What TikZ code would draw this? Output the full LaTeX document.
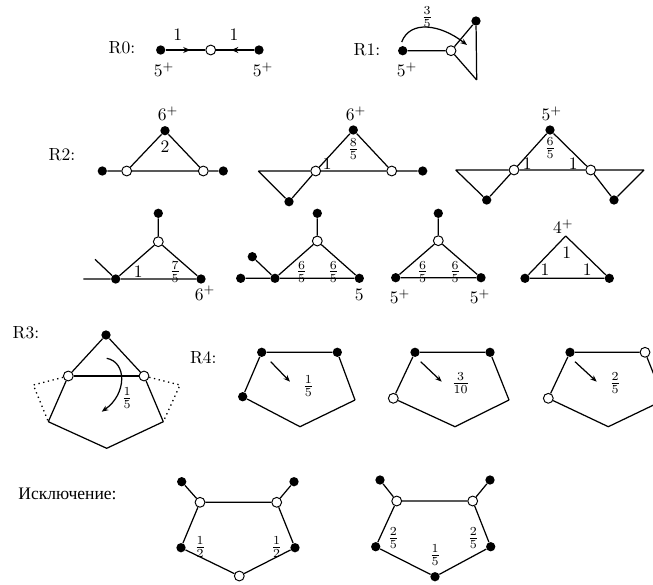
\documentclass[tikz,border=0pt]{standalone}
\usepackage{fontspec}
\newfontfamily\cyrfont{Liberation Serif}
\usetikzlibrary{arrows.meta,decorations.markings}
\tikzset{
 bn/.style={circle,fill=black,inner sep=0pt,minimum size=5.3pt},
 wn/.style={circle,draw,fill=white,inner sep=0pt,minimum size=5.6pt,line width=0.55pt},
 ed/.style={line width=0.7pt},
 dt/.style={line width=0.75pt,dotted},
 lb/.style={inner sep=0pt},
 arr/.style={-{Stealth[length=3.8pt,width=3pt]},line width=0.7pt},
 midarr/.style={postaction={decorate},decoration={markings,mark=at position #1 with {\arrow{Stealth[length=4pt,width=3.4pt]}}}},
}
\begin{document}
\begin{tikzpicture}[x=0.57pt,y=-0.57pt]
\useasboundingbox (0,0) rectangle (653,584);
\begin{scope}
\clip (0,0) rectangle (653,584);
% ---------- R0
\node[lb] (r0) at (122,48) {R0:};
\node[bn] (a1) at (160.7,50) {};
\node[wn] (a2) at (210.7,50) {};
\node[bn] (a3) at (259,50) {};
\draw[ed,midarr=0.62] (a1) -- (a2);
\draw[ed,midarr=0.6] (a3) -- (a2);
\node[lb] (a1l) at (177.7,35) {1};
\node[lb] (a3l) at (234,35) {1};
\node[lb] (a1d) at (164,70) {$5^+$};
\node[lb] (a3d) at (263,70) {$5^+$};
% ---------- R1
\node[lb] (r1) at (367,50) {R1:};
\node[bn] (b1) at (402.7,50.7) {};
\node[wn] (b2) at (451,50.7) {};
\node[bn] (b3) at (476,21) {};
\coordinate (b4) at (476.7,80);
\draw[ed] (b1) -- (b2) (b2) -- (b3) (b3) -- (b4) (b4) -- (b2);
\node[lb] (b1d) at (407,70) {$5^+$};
\coordinate (b5) at (401.7,42);
\coordinate (b6) at (467,45);
\draw[arr] (b5) .. controls (410,20) and (440,24) .. (b6);
\node[lb] (b7) at (427,17) {$\frac{3}{5}$};
% ---------- R2 row 1
\node[lb] (r2) at (62,155) {R2:};
\node[bn] (c1) at (165,130.7) {};
\node[wn] (c2) at (126.7,171) {};
\node[wn] (c3) at (203.3,171) {};
\node[bn] (c4) at (102.3,171) {};
\node[bn] (c5) at (223.3,171) {};
\draw[ed] (c1) -- (c2) (c1) -- (c3) (c2) -- (c3) (c4) -- (c2) (c3) -- (c5);
\node[lb] at (168,114) {$6^+$};
\node[lb] at (165,147) {2};
%
\node[bn] (d1) at (353.3,130) {};
\node[wn] (d2) at (315.7,171) {};
\node[wn] (d3) at (391.7,171) {};
\node[bn] (d4) at (422.7,171) {};
\coordinate (d5) at (258.3,171);
\node[bn] (d6) at (289,201.7) {};
\draw[ed] (d1) -- (d2) (d1) -- (d3) (d2) -- (d3) (d3) -- (d4) (d5) -- (d2) (d2) -- (d6) (d5) -- (d6);
\node[lb] at (356,114) {$6^+$};
\node[lb] at (353.3,149.3) {$\frac{8}{5}$};
\node[lb] at (327.3,164) {1};
%
\node[bn] (e1) at (550,130) {};
\node[wn] (e2) at (514,170) {};
\node[wn] (e3) at (590.7,170) {};
\coordinate (e4) at (455.7,170);
\coordinate (e5) at (644,170);
\node[bn] (e6) at (486.7,200) {};
\node[bn] (e7) at (614,200) {};
\draw[ed] (e1) -- (e2) (e1) -- (e3) (e2) -- (e3) (e4) -- (e2) (e3) -- (e5)
  (e2) -- (e6) (e4) -- (e6) (e3) -- (e7) (e5) -- (e7);
\node[lb] at (551.7,114) {$5^+$};
\node[lb] at (550,148.3) {$\frac{6}{5}$};
\node[lb] at (527.3,164) {1};
\node[lb] at (573.3,164) {1};
% ---------- R2 row 2
\node[bn] (f1) at (158.3,213.3) {};
\node[wn] (f2) at (158.3,241.7) {};
\node[bn] (f3) at (115.7,279) {};
\node[bn] (f4) at (201,279) {};
\coordinate (f5) at (83.3,279);
\coordinate (f6) at (95,259.3);
\draw[ed] (f1) -- (f2) (f2) -- (f3) (f2) -- (f4) (f5) -- (f3) (f3) -- (f4) (f6) -- (f3);
\node[lb] at (205,293.3) {$6^+$};
\node[lb] at (138.3,271.7) {1};
\node[lb] at (175,271.7) {$\frac{7}{5}$};
%
\node[bn] (g1) at (317.3,213.3) {};
\node[wn] (g2) at (317.3,241) {};
\node[bn] (g3) at (275,278.3) {};
\node[bn] (g4) at (359.3,278.3) {};
\node[bn] (g5) at (240.7,278.3) {};
\node[bn] (g6) at (252.3,256.7) {};
\draw[ed] (g1) -- (g2) (g2) -- (g3) (g2) -- (g4) (g5) -- (g3) (g3) -- (g4) (g6) -- (g3);
\node[lb] at (359.3,295) {5};
\node[lb] at (301.7,271.7) {$\frac{6}{5}$};
\node[lb] at (333.3,271.7) {$\frac{6}{5}$};
%
\node[bn] (h1) at (438.3,213.3) {};
\node[wn] (h2) at (438.3,240.7) {};
\node[bn] (h3) at (395.7,277.7) {};
\node[bn] (h4) at (481,277.7) {};
\draw[ed] (h1) -- (h2) (h2) -- (h3) (h2) -- (h4) (h3) -- (h4);
\node[lb] at (400,296.7) {$5^+$};
\node[lb] at (480,296.7) {$5^+$};
\node[lb] at (422.7,271.7) {$\frac{6}{5}$};
\node[lb] at (455,271.7) {$\frac{6}{5}$};
%
\coordinate (i1) at (565.7,236);
\node[bn] (i2) at (525,278.3) {};
\node[bn] (i3) at (609.3,278.3) {};
\draw[ed] (i1) -- (i2) (i2) -- (i3) (i3) -- (i1);
\node[lb] at (563.3,226.7) {$4^+$};
\node[lb] at (566.7,252.7) {1};
\node[lb] at (545,269.3) {1};
\node[lb] at (587.3,269.3) {1};
% ---------- R3
\node[lb] (r3) at (26,333) {R3:};
\node[bn] (j1) at (106,335) {};
\node[wn] (j2) at (68.3,376) {};
\node[wn] (j3) at (144,376) {};
\coordinate (j4) at (33.3,385);
\coordinate (j5) at (48.3,421.7);
\coordinate (j6) at (180,385);
\coordinate (j7) at (163.3,421.7);
\coordinate (j8) at (106.7,448.3);
\draw[ed] (j1) -- (j2) (j1) -- (j3) (j2) -- (j5) (j3) -- (j7) (j5) -- (j8) (j8) -- (j7);
\draw[ed,line width=0.9pt] (j2) -- (j3);
\draw[dt] (j2) -- (j4) -- (j5);
\draw[dt] (j3) -- (j6) -- (j7);
\coordinate (j9) at (106.7,358.3);
\coordinate (j10) at (101.7,411.7);
\draw[arr] (j9) .. controls (127,362) and (127,394) .. (j10);
\node[lb] at (127,398.3) {$\frac{1}{5}$};
% ---------- R4
\node[lb] (r4) at (203.3,357.3) {R4:};
\node[bn] (k1) at (261.7,352.3) {};
\node[bn] (k2) at (337.3,352.3) {};
\coordinate (k3) at (355,400);
\coordinate (k4) at (300,426.7);
\node[bn] (k5) at (242.7,396.7) {};
\draw[ed] (k1) -- (k2) (k2) -- (k3) (k3) -- (k4) (k4) -- (k5) (k5) -- (k1);
\coordinate (k6) at (270.7,361.7);
\coordinate (k7) at (290,381.7);
\draw[arr] (k6) -- (k7);
\node[lb] at (308.3,386) {$\frac{1}{5}$};
%
\node[bn] (l1) at (415,352.3) {};
\node[bn] (l2) at (490,352.3) {};
\coordinate (l3) at (509,400);
\coordinate (l4) at (455,426.7);
\node[wn] (l5) at (393.3,398.3) {};
\draw[ed] (l1) -- (l2) (l2) -- (l3) (l3) -- (l4) (l4) -- (l5) (l5) -- (l1);
\coordinate (l6) at (420.7,361.7);
\coordinate (l7) at (441.7,381.7);
\draw[arr] (l6) -- (l7);
\node[lb] at (460.7,383.3) {$\frac{3}{10}$};
%
\node[bn] (m1) at (570,352.3) {};
\node[wn] (m2) at (645,352.3) {};
\coordinate (m3) at (664,400);
\coordinate (m4) at (608.3,426.7);
\node[wn] (m5) at (548.3,398.3) {};
\draw[ed] (m1) -- (m2) (m2) -- (m3) (m3) -- (m4) (m4) -- (m5) (m5) -- (m1);
\coordinate (m6) at (575,361.7);
\coordinate (m7) at (596.7,381.7);
\draw[arr] (m6) -- (m7);
\node[lb] at (615,383.3) {$\frac{2}{5}$};
% ---------- Exception
\node[lb,anchor=west] (ex) at (18,494) {\cyrfont Исключение:};
\node[bn] (n1) at (181.7,481.7) {};
\node[bn] (n2) at (294,481.7) {};
\node[wn] (n3) at (200,502.3) {};
\node[wn] (n4) at (276.7,502.3) {};
\node[bn] (n5) at (181,547.7) {};
\node[bn] (n6) at (295,547.7) {};
\node[wn] (n7) at (239.3,576) {};
\draw[ed] (n1) -- (n3) (n2) -- (n4) (n3) -- (n4) (n3) -- (n5) (n4) -- (n6) (n5) -- (n7) (n6) -- (n7);
\node[lb] at (200,547.3) {$\frac{1}{2}$};
\node[lb] at (276.7,547.3) {$\frac{1}{2}$};
%
\node[bn] (o1) at (380,480) {};
\node[bn] (o2) at (490,480) {};
\node[wn] (o3) at (396.7,501) {};
\node[wn] (o4) at (472.7,501) {};
\node[bn] (o5) at (375.7,546.7) {};
\node[bn] (o6) at (490.7,546.7) {};
\node[bn] (o7) at (435,576.7) {};
\draw[ed] (o1) -- (o3) (o2) -- (o4) (o3) -- (o4) (o3) -- (o5) (o4) -- (o6) (o5) -- (o7) (o6) -- (o7);
\node[lb] at (393.3,538.3) {$\frac{2}{5}$};
\node[lb] at (473.3,538.3) {$\frac{2}{5}$};
\node[lb] at (435,555) {$\frac{1}{5}$};
\end{scope}
\end{tikzpicture}
\end{document}
